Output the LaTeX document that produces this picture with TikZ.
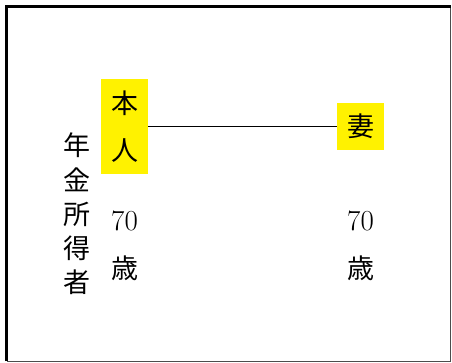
\documentclass[tikz,border=0pt]{standalone}
\usepackage{fontspec}
\newfontfamily\jpfont{Noto Sans CJK JP}
\usepackage{tikz}
\usetikzlibrary{positioning}
\tikzset{person/.style={rectangle, fill=yellow, inner sep=0pt, minimum width=47pt, font=\jpfont\fontsize{27}{47}\selectfont, align=center}}
\tikzset{age/.style={inner sep=0pt, font=\fontsize{29}{47}\selectfont, align=center}}

\begin{document}
\begin{tikzpicture}[x=1pt,y=-1pt]
		\useasboundingbox (0,0) rectangle (452,363);
		% frame
		\draw[line width=1pt, black!70] (7,7) rectangle (450.5,361);
		\draw[line width=3pt] (6,361) -- (6,6.5) -- (451,6.5);

		\node[person, minimum height=95pt] at (124.5,126.5) (self) {本\\人};
		\node[person, minimum height=47pt] at (360.5,126.5) (wife) {妻};
		\node[inner sep=0pt, align=center, font=\jpfont\fontsize{27}{34.2}\selectfont] at (77,214) (earner) {年\\金\\所\\得\\者};

		\node[age] at (124.5,221) (self-age) {70};
		\node[age, font=\jpfont\fontsize{27}{34}\selectfont] at (124.5,268) (self-sai) {歳};
		\node[age] at (360.5,221) (wife-age) {70};
		\node[age, font=\jpfont\fontsize{27}{34}\selectfont] at (360.5,268) (wife-sai) {歳};

		\draw[line width=1.2pt] (self) -- (wife);
\end{tikzpicture}
\end{document}
